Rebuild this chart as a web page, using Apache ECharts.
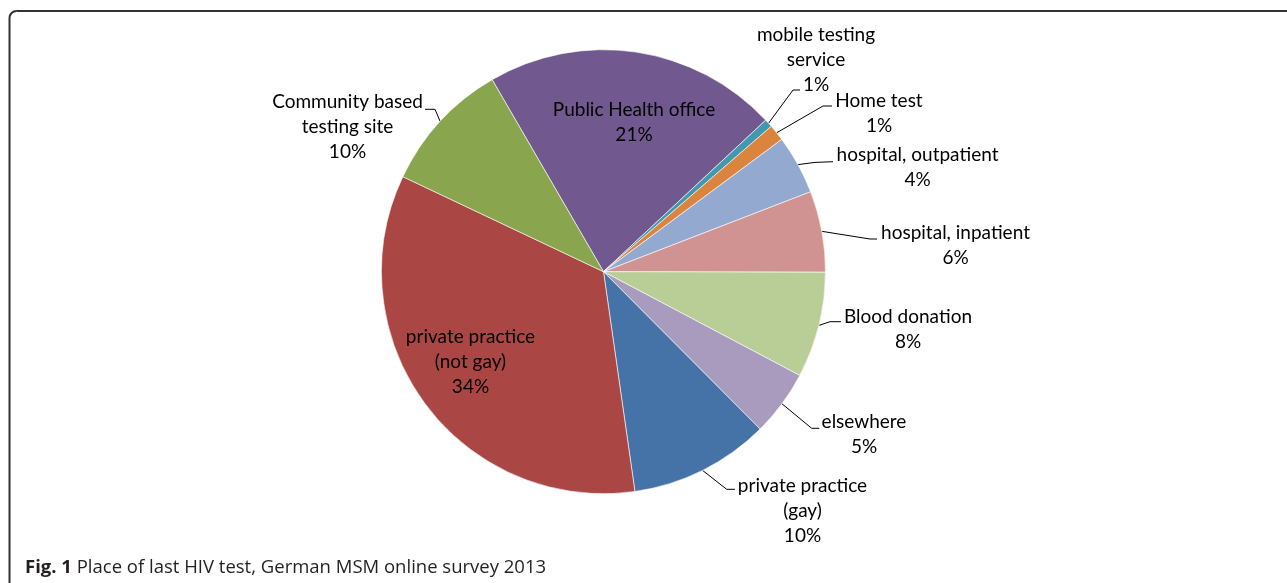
<!DOCTYPE html>
<html>
<head>
<meta charset="utf-8">
<script src="https://cdn.jsdelivr.net/npm/echarts@6/dist/echarts.min.js"></script>
<style>
html,body{margin:0;padding:0;background:#fff;}
#chart{width:1287px;height:583px;}
</style>
</head>
<body>
<div id="chart"></div>
<script>
// ---- data ----
const categories = [
  'Public Health office',
  'mobile testing\nservice',
  'Home test',
  'hospital, outpatient',
  'hospital, inpatient',
  'Blood donation',
  'elsewhere',
  'private practice\n(gay)',
  'private practice\n(not gay)',
  'Community based\ntesting site'
];
const values = [21.4, 0.6, 1.2, 4.3, 5.9, 7.7, 4.8, 10.2, 34.3, 9.6];
const sliceColors = ['#71588F', '#4198AF', '#DB843D', '#93A9CF', '#D19392',
                     '#B9CD96', '#A99BBD', '#4572A7', '#AA4643', '#89A54E'];
const captionBold = 'Fig. 1';
const captionText = 'Place of last HIV test, German MSM online survey 2013';

// ---- label placement (layout only) ----
const labelLayoutCfg = [
  { x: 634, y: 122.5, inside: true },
  { x: 816, y: 60, line: [[793, 90], [800, 90]] },
  { x: 879, y: 113, line: [[823, 106], [832, 106]] },
  { x: 917.5, y: 167.5, line: [[815, 162.4], [833, 161.7]] },
  { x: 955.5, y: 245.5, line: [[870, 239], [877, 239]] },
  { x: 908, y: 329, line: [[830, 321.7], [841, 321.7]] },
  { x: 864, y: 434.7, line: [[811.7, 428.3], [819.3, 428.3]] },
  { x: 802.5, y: 511, line: [[726.7, 489.3], [735, 489.3]] },
  { x: 470.5, y: 361.5, inside: true },
  { x: 347.5, y: 127, line: [[435, 109.3], [425, 109.3]] }
];

const chart = echarts.init(document.getElementById('chart'), null, { renderer: 'canvas' });

const seriesData = categories.map((name, i) => {
  const item = { name: name, value: values[i], itemStyle: { color: sliceColors[i] } };
  if (labelLayoutCfg[i].inside) {
    item.label = { position: 'inside' };
    item.labelLine = { show: false };
  }
  return item;
});

const option = {
  animation: false,
  backgroundColor: '#ffffff',
  graphic: [
    {
      type: 'rect',
      silent: true,
      shape: { x: 9.5, y: 11, width: 1400, height: 700, r: [7, 0, 0, 0] },
      style: { fill: 'none', stroke: '#333333', lineWidth: 2 }
    },
    {
      type: 'text',
      silent: true,
      style: {
        x: 25,
        y: 568,
        verticalAlign: 'middle',
        text: '{b|' + captionBold + '} ' + captionText,
        fill: '#231F20',
        font: '18.5px "Open Sans"',
        rich: {
          b: { fontWeight: 'bold', fontFamily: 'Open Sans', fontSize: 18.5, fill: '#231F20' }
        }
      }
    }
  ],
  series: [{
    type: 'pie',
    center: [603.5, 271.7],
    radius: 222,
    startAngle: 120.1,
    clockwise: true,
    avoidLabelOverlap: false,
    silent: true,
    itemStyle: { borderColor: '#ffffff', borderWidth: 0.6 },
    label: {
      show: true,
      position: 'outside',
      color: '#000000',
      fontFamily: 'Lato',
      fontSize: 19,
      lineHeight: 25,
      align: 'center',
      formatter: function (p) {
        return p.name + '\n' + Math.round(p.percent) + '%';
      }
    },
    labelLine: {
      show: true,
      length: 10,
      length2: 10,
      lineStyle: { color: '#000000', width: 1 }
    },
    labelLayout: function (params) {
      const cfg = labelLayoutCfg[params.dataIndex];
      const res = { x: cfg.x, y: cfg.y, align: 'center', verticalAlign: 'middle' };
      if (cfg.line && params.labelLinePoints && params.labelLinePoints[0]) {
        res.labelLinePoints = [params.labelLinePoints[0], cfg.line[0], cfg.line[1]];
      }
      return res;
    },
    data: seriesData
  }]
};

chart.setOption(option);
</script>
</body>
</html>
